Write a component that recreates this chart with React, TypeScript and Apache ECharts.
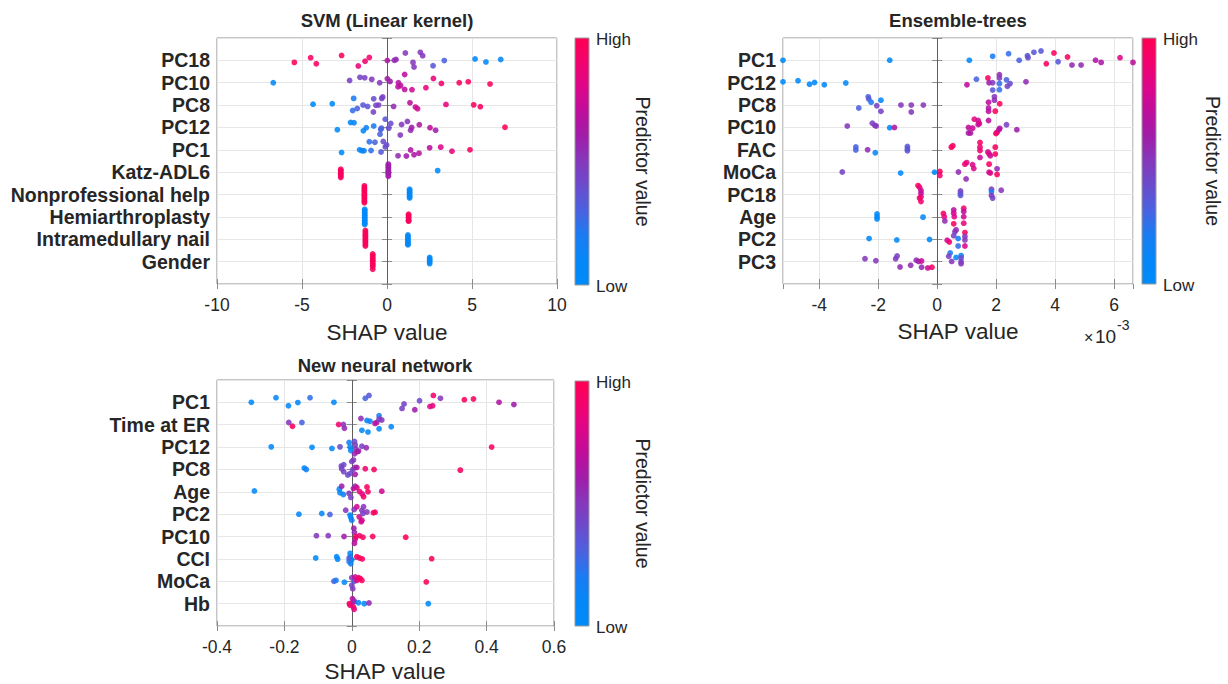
import React, { useEffect, useRef } from 'react';
import * as echarts from 'echarts';

// Each point: [SHAP value, vertical swarm offset (in rows, + = up), predictor value 0 (low) .. 1 (high)]
type P = [number, number, number];

// ---------------- SVM (Linear kernel) ----------------
const svmFeatures = ['PC18', 'PC10', 'PC8', 'PC12', 'PC1', 'Katz-ADL6', 'Nonprofessional help', 'Hemiarthroplasty', 'Intramedullary nail', 'Gender'];
const svmTicks = { min: -10, max: 10, interval: 5 };
const svmPC18: P[] = [[-5.45,-0.09,0.97],[-4.49,0.12,0.95],[-4.16,-0.15,0.95],[-2.67,0.22,0.95],[-1.69,-0.25,0.85],[-1.29,-0.04,0.9],[-1.04,0.13,0.9],[0.02,-0.01,0.65],[0.43,0,0.55],[0.53,0.04,0.55],[1.08,0.33,0.5],[1.53,-0.09,0.5],[1.59,-0.3,0.5],[1.96,0.36,0.5],[2.1,0.21,0.5],[2.71,-0.24,0.35],[3.37,-0.01,0.3],[5.18,0.06,0.05],[5.82,-0.07,0.05],[6.69,0.04,0.05]];
const svmPC10: P[] = [[-6.69,0,0.05],[-2.2,0.1,0.45],[-1.59,0.24,0.45],[-1.31,0.22,0.45],[-0.9,0.15,0.5],[-0.43,0,0.5],[0.02,0.18,0.6],[0.18,0.06,0.6],[0.67,0,0.65],[0.65,-0.18,0.7],[0.8,-0.13,0.7],[1.04,-0.3,0.7],[1.04,0.37,0.7],[1.47,-0.31,0.75],[2.29,-0.22,0.85],[2.73,0.19,0.85],[3.2,-0.03,0.92],[4.25,0,0.95],[4.78,0.04,0.95],[6.06,-0.06,0.97]];
const svmPC8: P[] = [[-4.35,0.04,0.05],[-3.22,0.06,0.05],[-1.96,0.3,0.2],[-2.02,-0.24,0.25],[-1.75,-0.15,0.3],[-1.41,0,0.35],[-1.14,-0.06,0.35],[-0.8,-0.31,0.45],[-0.78,0.28,0.4],[-0.65,-0.01,0.45],[-0.49,0,0.45],[-0.31,0.3,0.45],[-0.25,0.36,0.45],[0.39,-0.06,0.55],[1.35,0.1,0.7],[1.67,-0.09,0.75],[1.8,-0.16,0.75],[3.47,0.03,0.85],[5.1,0.01,0.95],[5.49,-0.07,0.95]];
const svmPC12: P[] = [[-2.92,-0.1,0.05],[-2.14,0.22,0.1],[-1.94,0.21,0.1],[-1.39,-0.15,0.1],[-1.22,-0.01,0.15],[-0.78,0.06,0.2],[-0.41,-0.3,0.3],[-0.37,-0.09,0.3],[-0.33,-0.03,0.3],[-0.1,0.37,0.35],[0.1,-0.03,0.4],[0.22,0.18,0.4],[0.78,-0.34,0.5],[0.86,0.13,0.5],[1.2,0.27,0.5],[1.39,-0.13,0.55],[1.45,0,0.6],[1.9,0.12,0.65],[2.53,-0.01,0.7],[2.86,-0.13,0.6],[6.94,0.01,0.97]];
const svmPC1: P[] = [[-2.67,-0.12,0.05],[-1.61,0,0.1],[-1.47,-0.04,0.15],[-1.35,-0.04,0.15],[-1.04,0.36,0.25],[-0.94,-0.03,0.25],[-0.71,0.34,0.3],[-0.35,-0.1,0.35],[-0.22,0.37,0.4],[-0.1,0.13,0.4],[-0.02,0.22,0.4],[0.65,-0.27,0.55],[1.14,-0.28,0.6],[1.39,-0.01,0.65],[1.59,-0.22,0.65],[1.88,-0.15,0.65],[2.51,0.09,0.7],[3.16,0.12,0.8],[3.82,-0.06,0.85],[4.88,0,0.95]];
const svmKatz: P[] = [[-2.72,0.13,0.95],[-2.72,0.07,0.95],[-2.72,0.01,0.95],[-2.72,-0.05,0.95],[-2.72,-0.11,0.95],[-2.72,-0.17,0.95],[-2.72,-0.24,0.95],[0.08,0.36,0.6],[0.08,0.29,0.6],[0.08,0.22,0.6],[0.08,0.15,0.6],[0.08,0.08,0.6],[0.08,0.02,0.6],[0.08,-0.05,0.6],[0.08,-0.11,0.6],[0.08,-0.18,0.6],[2.98,0.07,0.05]];
const svmNonprof: P[] = [[-1.33,0.39,0.97],[-1.33,0.32,0.97],[-1.33,0.25,0.97],[-1.33,0.18,0.97],[-1.33,0.11,0.97],[-1.33,0.04,0.97],[-1.33,-0.03,0.97],[-1.33,-0.1,0.97],[-1.33,-0.17,0.97],[-1.33,-0.24,0.97],[-1.33,-0.31,0.97],[-1.33,-0.37,0.97],[1.33,0.24,0.05],[1.33,0.17,0.05],[1.33,0.1,0.05],[1.33,0.03,0.05],[1.33,-0.04,0.05],[1.33,-0.1,0.05],[1.33,-0.15,0.05]];
const svmHemi: P[] = [[-1.31,0.34,0.05],[-1.31,0.27,0.05],[-1.31,0.2,0.05],[-1.31,0.13,0.05],[-1.31,0.06,0.05],[-1.31,-0.01,0.05],[-1.31,-0.08,0.05],[-1.31,-0.15,0.05],[-1.31,-0.22,0.05],[-1.31,-0.28,0.05],[-1.31,-0.34,0.05],[1.27,0.12,0.97],[1.27,0.05,0.97],[1.27,-0.02,0.97],[1.27,-0.09,0.97],[1.27,-0.15,0.97],[1.27,-0.19,0.97]];
const svmIntra: P[] = [[-1.27,0.39,0.97],[-1.27,0.32,0.97],[-1.27,0.25,0.97],[-1.27,0.18,0.97],[-1.27,0.11,0.97],[-1.27,0.04,0.97],[-1.27,-0.03,0.97],[-1.27,-0.1,0.97],[-1.27,-0.17,0.97],[-1.27,-0.24,0.97],[-1.27,-0.3,0.97],[1.23,0.19,0.05],[1.23,0.12,0.05],[1.23,0.05,0.05],[1.23,-0.02,0.05],[1.23,-0.09,0.05],[1.23,-0.16,0.05],[1.23,-0.22,0.05],[1.23,-0.25,0.05]];
const svmGender: P[] = [[-0.84,0.34,0.97],[-0.84,0.27,0.97],[-0.84,0.2,0.97],[-0.84,0.13,0.97],[-0.84,0.06,0.97],[-0.84,-0.01,0.97],[-0.84,-0.08,0.97],[-0.84,-0.15,0.97],[-0.84,-0.22,0.97],[-0.84,-0.34,0.97],[2.51,0.19,0.05],[2.51,0.12,0.05],[2.51,0.05,0.05],[2.51,-0.02,0.05],[2.51,-0.09,0.05]];
const svmPoints: P[][] = [svmPC18, svmPC10, svmPC8, svmPC12, svmPC1, svmKatz, svmNonprof, svmHemi, svmIntra, svmGender];

// ---------------- Ensemble-trees (values in units of 1e-3) ----------------
const ensFeatures = ['PC1', 'PC12', 'PC8', 'PC10', 'FAC', 'MoCa', 'PC18', 'Age', 'PC2', 'PC3'];
const ensPC1: P[] = [[-5.23,0,0.03],[-1.61,0.01,0.05],[1.09,0,0.05],[1.88,0.18,0.2],[2.42,0.3,0.25],[2.78,0,0.3],[3.06,0.21,0.35],[3.08,0.12,0.4],[3.28,0.36,0.35],[3.52,0.42,0.35],[3.7,-0.15,0.95],[3.96,0.33,0.95],[4.1,-0.06,0.35],[4.42,0.15,0.95],[4.57,-0.21,0.55],[4.88,-0.21,0.55],[5.37,0.01,0.65],[5.56,-0.09,0.65],[6.2,0.12,0.8],[6.64,-0.09,0.7]];
const ensPC12: P[] = [[-5.23,0.04,0.05],[-4.72,0.09,0.05],[-4.33,-0.07,0.05],[-4.16,0.01,0.1],[-3.83,-0.09,0.05],[-3.1,-0.01,0.05],[1.01,-0.09,0.7],[1.33,0.16,0.3],[1.72,0.21,0.95],[1.76,0,0.6],[1.88,0,0.5],[2.11,0.36,0.55],[2.11,0.21,0.5],[2.11,-0.04,0.25],[2.11,-0.31,0.25],[1.88,-0.33,0.35],[2.35,0.13,0.3],[2.38,-0.16,0.45],[2.47,-0.04,0.4],[3.01,0.04,0.55]];
const ensPC8: P[] = [[-2.66,-0.13,0.3],[-2.34,0.37,0.3],[-2.32,0.27,0.35],[-2.24,0.13,0.2],[-2.05,-0.03,0.45],[-1.91,0.22,0.1],[-1.91,-0.28,0.45],[-1.23,0,0.5],[-0.88,0,0.5],[-0.88,-0.31,0.5],[-0.47,0,0.5],[1.74,0.13,0.7],[1.74,-0.13,0.65],[1.74,-0.28,0.7],[1.94,0.37,0.5],[1.94,0.22,0.55],[1.97,-0.27,0.95],[2.12,0.06,0.95]];
const ensPC10: P[] = [[-3.05,0.06,0.5],[-2.2,0.19,0.45],[-2.11,0.09,0.5],[-2.07,0.06,0.5],[-1.61,-0.01,0.05],[-1.45,0,0.65],[1.06,0,0.7],[1.06,-0.25,0.6],[1.13,-0.25,0.65],[1.2,-0.03,0.75],[1.26,0.37,0.85],[1.39,0.31,0.75],[1.39,0.13,0.7],[1.43,0.18,0.8],[1.74,0.31,0.7],[1.99,-0.27,0.95],[2.03,-0.22,0.9],[2.1,-0.09,0.7],[2.12,-0.04,0.65],[2.35,0.12,0.45],[2.7,-0.1,0.6]];
const ensFAC: P[] = [[-2.76,0.13,0.3],[-2.76,-0.01,0.3],[-2.36,0,0.55],[-2.1,-0.13,0.1],[-1.01,0.15,0.35],[-1.01,0.04,0.35],[-1.01,-0.04,0.35],[0.48,0.12,0.95],[0.53,0.18,0.95],[1.45,0.33,0.95],[1.45,0.12,0.9],[1.45,-0.03,0.9],[1.45,-0.34,0.75],[1.72,-0.1,0.75],[1.76,-0.18,0.8],[1.8,-0.27,0.75],[1.97,0.12,0.95],[1.97,-0.19,0.95]];
const ensMoCa: P[] = [[-3.22,0.01,0.45],[-1.24,-0.04,0.05],[-0.09,0,0.05],[0.09,0.03,0.95],[0.09,-0.15,0.9],[0.72,0.01,0.55],[0.94,0.36,0.9],[1.0,0.43,0.85],[1.2,0.33,0.8],[1.24,0.16,0.8],[0.98,-0.3,0.55],[1.76,0.36,0.95],[1.76,0,0.75],[1.8,-0.04,0.8],[2.03,0.15,0.55],[2.03,-0.1,0.95]];
const ensPC18: P[] = [[-0.65,0.4,0.95],[-0.6,0.33,0.9],[-0.55,0.18,0.75],[-0.55,0.06,0.7],[-0.55,-0.1,0.8],[-0.6,-0.16,0.95],[-0.55,-0.31,0.9],[0.79,0.16,0.45],[0.79,0.06,0.4],[0.79,-0.04,0.35],[1.84,0.24,0.5],[1.84,0.12,0.15],[1.84,-0.04,0.5],[1.88,-0.16,0.45],[2.17,0.19,0.5]];
const ensAge: P[] = [[-2.04,0.13,0.05],[-2.04,0.01,0.05],[-2.04,-0.09,0.05],[-0.48,-0.01,0.1],[0.21,0.15,0.95],[0.24,0.01,0.85],[0.26,-0.18,0.55],[0.56,0.31,0.7],[0.56,0.16,0.75],[0.58,0.01,0.8],[0.56,-0.31,0.95],[0.9,0.39,0.9],[0.9,0.24,0.7],[0.9,0.01,0.75],[0.9,-0.28,0.85]];
const ensPC2: P[] = [[-2.31,0.03,0.05],[-1.37,-0.03,0.05],[-0.26,-0.01,0.05],[0.34,-0.04,0.75],[0.41,-0.12,0.9],[0.56,0.16,0.45],[0.6,0.34,0.45],[0.64,0.42,0.55],[0.71,0.03,0.2],[0.71,-0.3,0.25],[0.94,0.3,0.95],[0.94,0.12,0.5],[0.94,-0.03,0.5],[0.94,-0.3,0.8]];
const ensPC3: P[] = [[-2.45,0.13,0.5],[-2.08,0.04,0.5],[-1.41,0.13,0.5],[-1.36,0.25,0.45],[-1.26,-0.24,0.55],[-0.9,-0.16,0.55],[-0.71,0.06,0.55],[-0.63,0.01,0.6],[-0.53,0.03,0.75],[-0.53,-0.25,0.55],[-0.32,-0.28,0.75],[-0.18,-0.25,0.95],[0.44,0.39,0.2],[0.39,0.24,0.45],[0.49,0.01,0.5],[0.64,0.19,0.1],[0.81,0.27,0.15],[0.81,0.16,0.4],[0.81,0,0.45],[0.81,-0.09,0.5]];
const ensPoints: P[][] = [ensPC1, ensPC12, ensPC8, ensPC10, ensFAC, ensMoCa, ensPC18, ensAge, ensPC2, ensPC3];

// ---------------- New neural network ----------------
const nnFeatures = ['PC1', 'Time at ER', 'PC12', 'PC8', 'Age', 'PC2', 'PC10', 'CCI', 'MoCa', 'Hb'];
const nnTicks = { min: -0.4, max: 0.6, interval: 0.2 };
const nnPC1: P[] = [[-0.298,0,0.05],[-0.225,0.21,0.1],[-0.188,-0.15,0.1],[-0.16,-0.01,0.05],[-0.124,0.21,0.25],[-0.053,0,0.1],[0.04,0.18,0.3],[0.051,0.31,0.35],[0.149,-0.27,0.45],[0.155,-0.07,0.45],[0.187,-0.33,0.6],[0.201,0.07,0.4],[0.232,-0.19,0.8],[0.24,-0.15,0.85],[0.242,0.31,0.9],[0.263,0.18,0.5],[0.334,0.12,0.95],[0.361,0.15,0.95],[0.437,0,0.65],[0.481,-0.1,0.6]];
const nnTimeER: P[] = [[-0.187,0.1,0.5],[-0.176,-0.07,0.95],[-0.148,0.1,0.3],[-0.039,0.01,0.9],[-0.025,0.01,0.5],[-0.022,-0.16,0.55],[0.027,0.28,0.55],[0.045,0.19,0.1],[0.054,0.16,0.15],[0.03,-0.25,0.1],[0.048,-0.33,0.1],[0.069,0.06,0.7],[0.074,0.1,0.65],[0.081,0.4,0.2],[0.081,0.25,0.45],[0.081,-0.18,0.1],[0.089,0.21,0.5],[0.117,-0.09,0.1]];
const nnPC12: P[] = [[-0.239,0.01,0.05],[-0.118,-0.01,0.05],[-0.059,-0.06,0.05],[-0.035,0.01,0.4],[-0.008,0.21,0.15],[-0.005,0,0.1],[-0.003,-0.15,0.1],[0.008,0.25,0.4],[0.01,0.1,0.45],[0.012,-0.07,0.5],[0.008,-0.3,0.55],[0.016,-0.21,0.65],[0.02,-0.18,0.6],[0.03,0.04,0.45],[0.043,-0.03,0.55],[0.415,0,0.95]];
const nnPC8: P[] = [[-0.141,0.06,0.1],[-0.135,0,0.15],[-0.031,0.15,0.45],[-0.024,0.21,0.4],[-0.03,0.03,0.45],[-0.024,-0.1,0.45],[-0.012,-0.25,0.4],[-0.005,-0.18,0.4],[0.003,0,0.45],[0.0,0.36,0.45],[0.005,0.42,0.5],[0.009,0.09,0.5],[0.015,0.09,0.65],[0.01,-0.22,0.6],[0.04,0.03,0.9],[0.066,0,0.95],[0.322,-0.03,0.95]];
const nnAge: P[] = [[-0.289,0.04,0.05],[-0.037,0.12,0.1],[-0.035,-0.04,0.1],[-0.025,-0.12,0.15],[-0.03,0.25,0.6],[-0.008,-0.07,0.5],[-0.003,-0.25,0.45],[0.005,0.15,0.7],[0.01,0.25,0.55],[0.015,0.19,0.75],[0.023,0.01,0.9],[0.031,-0.1,0.8],[0.035,-0.22,0.95],[0.045,0.22,0.95],[0.048,0,0.95],[0.089,0.03,0.75]];
const nnPC2: P[] = [[-0.157,0,0.05],[-0.089,0.03,0.1],[-0.065,-0.01,0.3],[-0.018,0.18,0.5],[-0.005,-0.04,0.1],[-0.003,-0.15,0.1],[0.0,-0.27,0.15],[0.007,0.21,0.5],[0.015,0.33,0.75],[0.022,-0.12,0.75],[0.03,0.18,0.5],[0.033,0.03,0.45],[0.035,0.33,0.5],[0.03,-0.27,0.8],[0.028,-0.34,0.75],[0.045,0.1,0.5],[0.064,0.06,0.95],[0.069,0.09,0.95]];
const nnPC10: P[] = [[-0.105,0.04,0.5],[-0.07,0.04,0.5],[-0.023,0,0.6],[0.006,0.37,0.6],[0.008,0.18,0.55],[0.01,-0.12,0.7],[0.008,-0.3,0.7],[0.012,0,0.95],[0.023,0.04,0.9],[0.033,-0.03,0.95],[0.062,0,0.95],[0.16,-0.03,0.97]];
const nnCCI: P[] = [[-0.107,0.04,0.05],[-0.045,0.1,0.05],[-0.042,-0.01,0.05],[-0.008,-0.12,0.25],[-0.005,0.25,0.1],[-0.005,0.1,0.1],[-0.003,-0.22,0.15],[0.0,-0.04,0.1],[-0.008,0.03,0.3],[0.015,0.1,0.95],[0.023,0.04,0.95],[0.031,0,0.95],[0.237,0.01,0.97]];
const nnMoCa: P[] = [[-0.053,0,0.3],[-0.047,0.04,0.2],[-0.022,-0.04,0.1],[0.0,0.16,0.5],[0.003,-0.33,0.5],[0.0,-0.18,0.45],[0.007,0,0.35],[0.01,0.19,0.75],[0.015,0.04,0.8],[0.02,0.16,0.9],[0.025,0.12,0.95],[0.03,0.04,0.95],[0.221,-0.03,0.97]];
const nnHb: P[] = [[-0.007,0,0.95],[-0.005,-0.07,0.9],[0.002,0.22,0.7],[0.005,0.07,0.8],[0.005,-0.15,0.9],[0.007,-0.25,0.85],[0.007,0.12,0.55],[0.02,0.04,0.1],[0.037,0,0.1],[0.051,0.03,0.55],[0.227,0,0.05]];
const nnPoints: P[][] = [nnPC1, nnTimeER, nnPC12, nnPC8, nnAge, nnPC2, nnPC10, nnCCI, nnMoCa, nnHb];

const titles = ['SVM (Linear kernel)', 'Ensemble-trees', 'New neural network'];
const cmap = ['#008BFA', '#0487F8', '#1A7CF2', '#4A62E0', '#6A4CCD', '#8538BC', '#A01EAA', '#BD0E9C', '#DD068A', '#F2026E', '#FF0052'];

const FONT = '"Liberation Sans", Arial, Helvetica, sans-serif';
const TXT = '#262626';
const BOX = '#8c8c8c';
const GRIDC = '#e6e6e6';

function toRows(features: string[], pts: P[][]) {
  const n = features.length;
  return pts.flatMap((arr, i) => arr.map(([x, dy, c]) => [x, n - i + dy, c]));
}

export default function App() {
  const ref = useRef<HTMLDivElement>(null);
  useEffect(() => {
    if (!ref.current) return;
    const chart = echarts.init(ref.current, undefined, { renderer: 'svg' });

    const ensAll = ensPoints.flat().map((p) => p[0]);
    const ensRange = { min: Math.min(...ensAll), max: Math.max(...ensAll) };

    const panels = [
      { features: svmFeatures, pts: svmPoints, range: svmTicks, grid: { left: 217, top: 38, width: 340, height: 246 } },
      { features: ensFeatures, pts: ensPoints, range: ensRange, grid: { left: 783, top: 38, width: 350, height: 246 } },
      { features: nnFeatures, pts: nnPoints, range: nnTicks, grid: { left: 217, top: 380, width: 337, height: 246 } },
    ];

    const tick = { inside: true, length: 5, lineStyle: { color: BOX } };
    const grids = panels.map((p) => ({ ...p.grid, show: true, borderColor: BOX, borderWidth: 1, backgroundColor: '#fff' }));
    const xMain = panels.map((p, g) => ({
      gridIndex: g, type: 'value', ...p.range, position: 'bottom',
      axisLine: { show: false }, axisTick: tick,
      splitLine: { show: true, lineStyle: { color: GRIDC } },
      axisLabel: { fontSize: 17.5, color: TXT, margin: 12, fontFamily: FONT, showMinLabel: g !== 1, showMaxLabel: g !== 1 },
    }));
    const xTop = panels.map((p, g) => ({
      gridIndex: g, type: 'value', ...p.range, position: 'top',
      axisLine: { show: false }, axisTick: tick, axisLabel: { show: false }, splitLine: { show: false },
    }));
    const yMain = panels.map((p, g) => {
      const n = p.features.length;
      return {
        gridIndex: g, type: 'value', min: 0, max: n + 1, interval: 1, position: 'left',
        axisLine: { show: false }, axisTick: tick,
        splitLine: { show: true, lineStyle: { color: GRIDC } },
        axisLabel: {
          fontSize: 19.5, fontWeight: 'bold', color: TXT, margin: 7, fontFamily: FONT,
          formatter: (v: number) => (v >= 1 && v <= n ? p.features[n - v] : ''),
        },
      };
    });
    const yRight = panels.map((p, g) => ({
      gridIndex: g, type: 'value', min: 0, max: p.features.length + 1, interval: 1, position: 'right',
      axisLine: { show: false }, axisTick: tick, axisLabel: { show: false }, splitLine: { show: false },
    }));

    const series = panels.map((p, g) => ({
      type: 'scatter',
      xAxisIndex: g, yAxisIndex: g,
      data: toRows(p.features, p.pts),
      symbolSize: 5.8,
      z: 3,
      itemStyle: { opacity: 0.88 },
      emphasis: { disabled: true },
      markLine: {
        silent: true, z: 2, symbol: ['none', 'none'], label: { show: false },
        lineStyle: { color: '#5f5f5f', width: 1, type: 'solid' },
        emphasis: { disabled: true },
        data: [{ xAxis: 0 }],
      },
    }));

    const text = (x: number, y: number, t: string, size: number, extra: any = {}) => ({
      type: 'text', x, y, ...extra,
      style: { text: t, fontSize: size, fill: TXT, fontFamily: FONT, align: 'center', verticalAlign: 'middle', ...(extra.style || {}) },
    });

    const bars = [
      { x: 575, y: 38, h: 247, tx: 643 },
      { x: 1142, y: 38, h: 246, tx: 1213 },
      { x: 575, y: 381, h: 245, tx: 643 },
    ];
    const stops = cmap.map((c, i) => ({ offset: i / (cmap.length - 1), color: c }));
    const graphic: any[] = [];
    bars.forEach((b) => {
      graphic.push({
        type: 'rect', shape: { x: b.x, y: b.y, width: 14, height: b.h },
        style: { fill: new echarts.graphic.LinearGradient(0, 1, 0, 0, stops), stroke: '#9a9a9a', lineWidth: 1 },
      });
      graphic.push(text(b.x + 21, b.y + 1, 'High', 17, { style: { align: 'left' } }));
      graphic.push(text(b.x + 21, b.y + b.h + 1, 'Low', 17, { style: { align: 'left' } }));
      graphic.push(text(b.tx, b.y + b.h / 2, 'Predictor value', 19.5, { rotation: -Math.PI / 2 }));
    });
    const titlePos = [[387, 20], [958, 20], [385, 365]];
    titles.forEach((t, i) => graphic.push(text(titlePos[i][0], titlePos[i][1], t, 18.5, { style: { fontWeight: 'bold' } })));
    const namePos = [[387, 332], [958, 331], [385, 671]];
    namePos.forEach(([x, y]) => graphic.push(text(x, y, 'SHAP value', 22.5)));
    graphic.push(text(1084, 337, '\u00d7', 16, { style: { align: 'left' } }));
    graphic.push(text(1095, 336, '10', 19, { style: { align: 'left' } }));
    graphic.push(text(1117, 325, '-3', 14, { style: { align: 'left' } }));

    chart.setOption({
      animation: false,
      backgroundColor: '#ffffff',
      grid: grids,
      xAxis: [...xMain, ...xTop],
      yAxis: [...yMain, ...yRight],
      visualMap: {
        type: 'continuous', show: false, min: 0, max: 1, dimension: 2, seriesIndex: [0, 1, 2],
        inRange: { color: cmap },
      },
      series,
      graphic,
    });
    return () => chart.dispose();
  }, []);
  return <div ref={ref} style={{ position: 'absolute', left: 0, top: 0, width: 1228, height: 684, background: '#fff' }} />;
}
